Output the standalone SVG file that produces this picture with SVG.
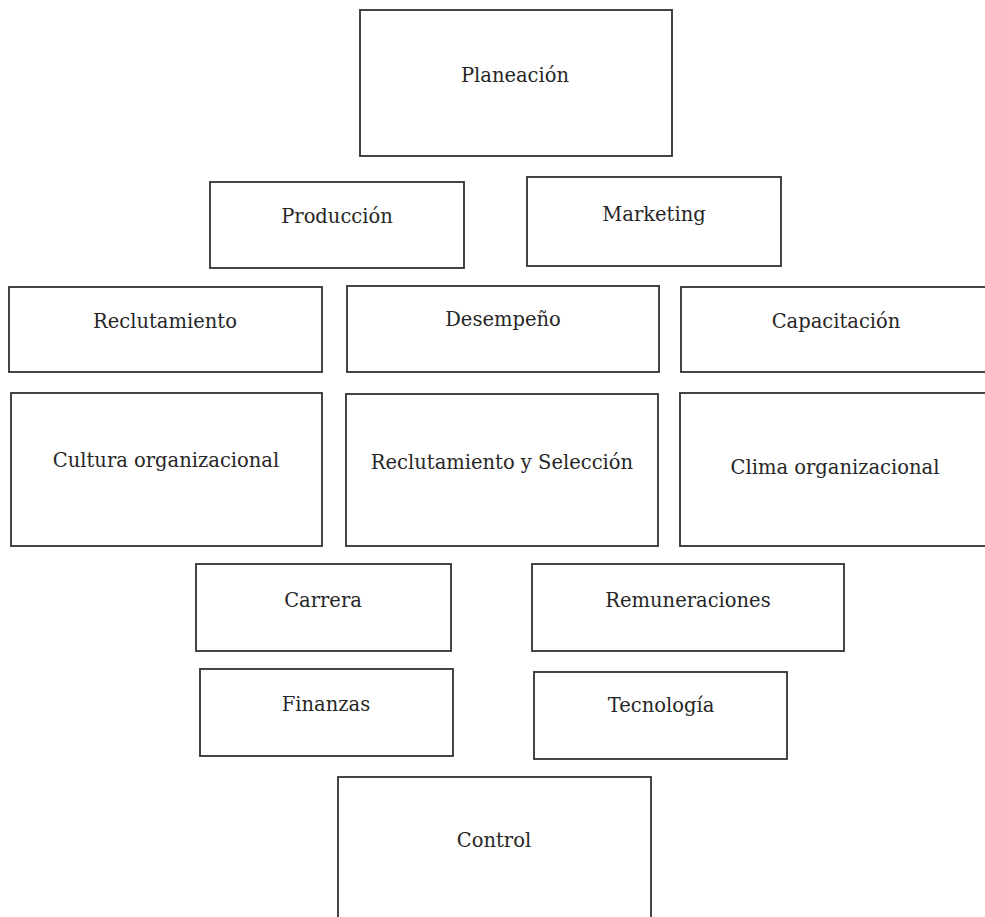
<svg xmlns="http://www.w3.org/2000/svg" width="985" height="917" viewBox="0 0 985 917">
<style>
.box{fill:#fff;stroke:#3c3c3c;stroke-width:1.9}
.lbl{font-family:"DejaVu Serif","Liberation Serif",serif;font-size:19.5px;fill:#262626;text-anchor:middle}
</style>
<rect width="985" height="917" fill="#fff"/>
<g id="connectors"></g>
<g id="planeacion"><rect class="box" x="360" y="10" width="312" height="146"/><text class="lbl" x="515" y="82">Planeación</text></g>
<g id="produccion"><rect class="box" x="210" y="182" width="254" height="86"/><text class="lbl" x="337" y="223">Producción</text></g>
<g id="marketing"><rect class="box" x="527" y="177" width="254" height="89"/><text class="lbl" x="654" y="221">Marketing</text></g>
<g id="reclutamiento"><rect class="box" x="9" y="287" width="313" height="85"/><text class="lbl" x="165" y="328">Reclutamiento</text></g>
<g id="desempeno"><rect class="box" x="347" y="286" width="312" height="86"/><text class="lbl" x="503" y="326">Desempeño</text></g>
<g id="capacitacion"><rect class="box" x="681" y="287" width="310" height="85"/><text class="lbl" x="836" y="328">Capacitación</text></g>
<g id="cultura"><rect class="box" x="11" y="393" width="311" height="153"/><text class="lbl" x="166" y="467">Cultura organizacional</text></g>
<g id="reclutamiento-seleccion"><rect class="box" x="346" y="394" width="312" height="152"/><text class="lbl" x="502" y="469">Reclutamiento y Selección</text></g>
<g id="clima"><rect class="box" x="680" y="393" width="311" height="153"/><text class="lbl" x="835" y="474">Clima organizacional</text></g>
<g id="carrera"><rect class="box" x="196" y="564" width="255" height="87"/><text class="lbl" x="323" y="607">Carrera</text></g>
<g id="remuneraciones"><rect class="box" x="532" y="564" width="312" height="87"/><text class="lbl" x="688" y="607">Remuneraciones</text></g>
<g id="finanzas"><rect class="box" x="200" y="669" width="253" height="87"/><text class="lbl" x="326" y="711">Finanzas</text></g>
<g id="tecnologia"><rect class="box" x="534" y="672" width="253" height="87"/><text class="lbl" x="661" y="712">Tecnología</text></g>
<g id="control"><rect class="box" x="338" y="777" width="313" height="160"/><text class="lbl" x="494" y="847">Control</text></g>
</svg>
